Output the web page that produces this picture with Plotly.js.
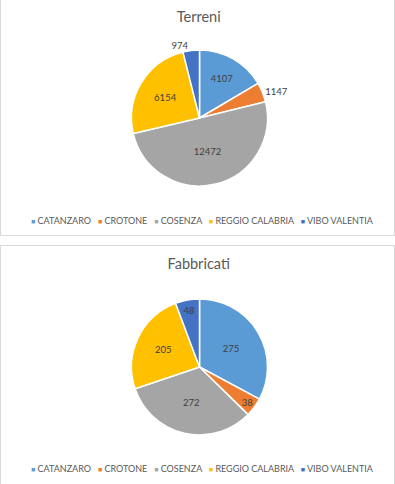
<!DOCTYPE html>
<html><head><meta charset="utf-8">
<script src="https://cdn.plot.ly/plotly-3.0.1.min.js"></script>
<style>
body{margin:0;background:#fff;width:395px;height:484px;overflow:hidden;position:relative;font-family:Lato}
.box{position:absolute;box-sizing:border-box;border:1px solid #d9d9d9;pointer-events:none}
.plot{position:absolute;left:0}
</style></head><body>
<div class="box" style="left:0;top:-1px;width:395px;height:237px"></div>
<div class="box" style="left:0;top:245px;width:395px;height:250px"></div>
<div id="c1" class="plot" style="top:0;width:395px;height:236px"></div>
<div id="c2" class="plot" style="top:245px;width:395px;height:239px"></div>
<script>
const categories = ['CATANZARO','CROTONE','COSENZA','REGGIO CALABRIA','VIBO VALENTIA'];
const terreniValues = [4107,1147,12472,6154,974];
const fabbricatiValues = [275,38,272,205,48];
const sliceColors = ['#5B9BD5','#ED7D31','#A5A5A5','#FFC000','#4472C4'];
const terreniTextPos = ['inside','outside','inside','inside','outside'];
const fabbricatiTextPos = ['inside','inside','inside','inside','inside'];

function draw(id, title, values, textpos, W, H, m, titleY, legendY) {
  const py = p => (H - m.b - p) / (H - m.t - m.b);
  const px = p => (p - m.l) / (W - m.l - m.r);
  const legendText = categories.map((c,i)=>`<span style="color:${sliceColors[i]};font-size:7px">■</span> ${c}`).join('&nbsp;&nbsp;&nbsp;');
  Plotly.newPlot(id, [{
    type:'pie', labels:categories, values:values, sort:false, direction:'clockwise', rotation:0,
    marker:{colors:sliceColors, line:{color:'#ffffff', width:1.5}},
    textinfo:'value', texttemplate:'%{value:d}', textposition:textpos, insidetextorientation:'horizontal',
    textfont:{family:'Lato', size:9.5, color:'#404040'},
    outsidetextfont:{family:'Lato', size:9.5, color:'#404040'},
    hoverinfo:'none', showlegend:false
  }], {
    width:W, height:H, margin:m,
    paper_bgcolor:'rgba(0,0,0,0)', plot_bgcolor:'rgba(0,0,0,0)',
    showlegend:false,
    title:{text:title, font:{family:'Lato', size:14.5, color:'#595959'}, xref:'container', x:0.503, yref:'container', y:1 - titleY/H, yanchor:'middle', xanchor:'center'},
    annotations:[{text:legendText, xref:'paper', yref:'paper', x:px(202), y:py(legendY), xanchor:'center', yanchor:'middle', showarrow:false, font:{family:'Lato', size:9, color:'#595959'}}]
  }, {staticPlot:true, displayModeBar:false});
}
draw('c1', 'Terreni', terreniValues, terreniTextPos, 395, 236, {l:4, r:0, t:50, b:50}, 16.7, 220);
draw('c2', 'Fabbricati', fabbricatiValues, fabbricatiTextPos, 395, 239, {l:4, r:0, t:54, b:49}, 19.3, 223);
</script>
</body></html>
